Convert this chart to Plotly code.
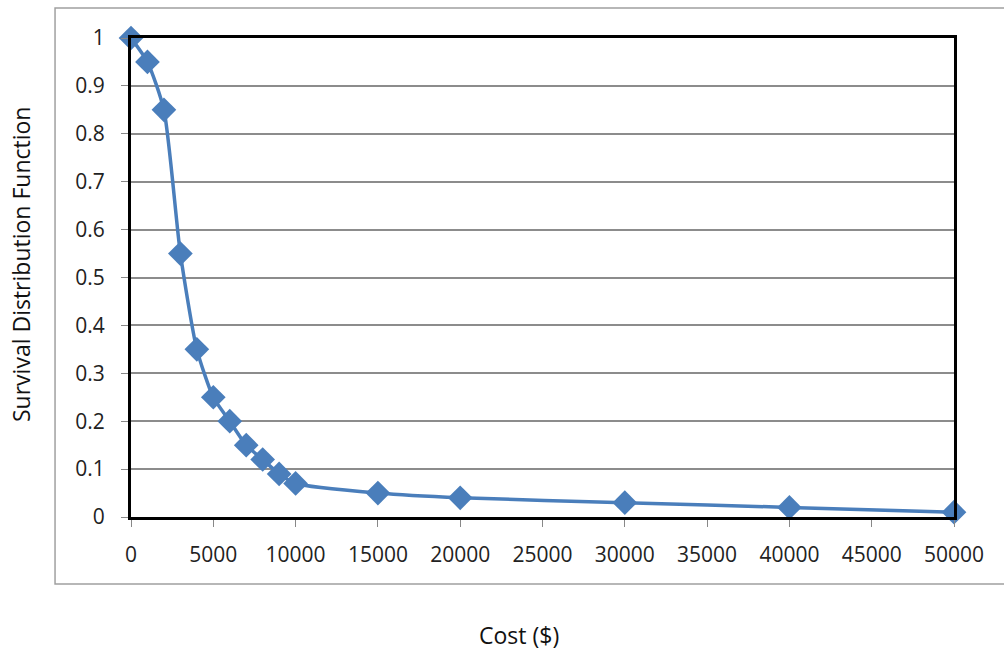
import plotly.graph_objects as go

# Survival distribution of cost
cost = [0, 1000, 2000, 3000, 4000, 5000, 6000, 7000, 8000, 9000, 10000,
        15000, 20000, 30000, 40000, 50000]
survival = [1.0, 0.95, 0.85, 0.55, 0.35, 0.25, 0.2, 0.15, 0.12, 0.09, 0.07,
            0.05, 0.04, 0.03, 0.02, 0.01]

x_ticks = list(range(0, 50001, 5000))
x_tick_text = [str(v) for v in x_ticks]
y_ticks = [round(i * 0.1, 1) for i in range(11)]
y_tick_text = ["0", "0.1", "0.2", "0.3", "0.4", "0.5", "0.6", "0.7", "0.8", "0.9", "1"]

blue = "#4A7EBB"
font_family = "Open Sans, Liberation Sans, sans-serif"

fig = go.Figure()
fig.add_trace(go.Scatter(
    x=cost, y=survival,
    mode="lines+markers",
    line=dict(color=blue, width=3.5, shape="spline", smoothing=0.6),
    marker=dict(symbol="diamond", size=19, color=blue),
    cliponaxis=False,
    showlegend=False,
))

axis_common = dict(
    showline=True, linecolor="black", linewidth=3, mirror=True,
    ticks="outside", tickcolor="#888888", ticklen=7, tickwidth=1,
    tickfont=dict(family=font_family, size=21, color="#222222"),
    zeroline=False,
)

fig.update_xaxes(range=[0, 50000], tickvals=x_ticks, ticktext=x_tick_text,
                 showgrid=False, ticklabelstandoff=10, **axis_common)
fig.update_yaxes(range=[0, 1], tickvals=y_ticks, ticktext=y_tick_text,
                 showgrid=True, gridcolor="#8c8c8c", gridwidth=1.5,
                 ticklabelstandoff=12, **axis_common)

# Outer chart frame
fig.add_shape(type="rect", xref="paper", yref="paper",
              x0=-0.0923, x1=1.12, y0=-0.1399, y1=1.0626,
              line=dict(color="#a0a0a0", width=1.5), layer="below")

fig.add_annotation(text="Survival Distribution Function", xref="paper", yref="paper",
                   x=(21 - 131) / 823, y=(517 - 265) / 479, textangle=-90, showarrow=False,
                   xanchor="center", yanchor="middle",
                   font=dict(family=font_family, size=23, color="#111111"))
fig.add_annotation(text="Cost ($)", xref="paper", yref="paper",
                   x=(519 - 131) / 823, y=-(635 - 517) / 479, showarrow=False,
                   xanchor="center", yanchor="middle",
                   font=dict(family=font_family, size=23, color="#111111"))

fig.update_layout(
    width=1004, height=652,
    margin=dict(l=131, r=50, t=38, b=135),
    paper_bgcolor="white", plot_bgcolor="white",
)

fig.write_html("out.html")
